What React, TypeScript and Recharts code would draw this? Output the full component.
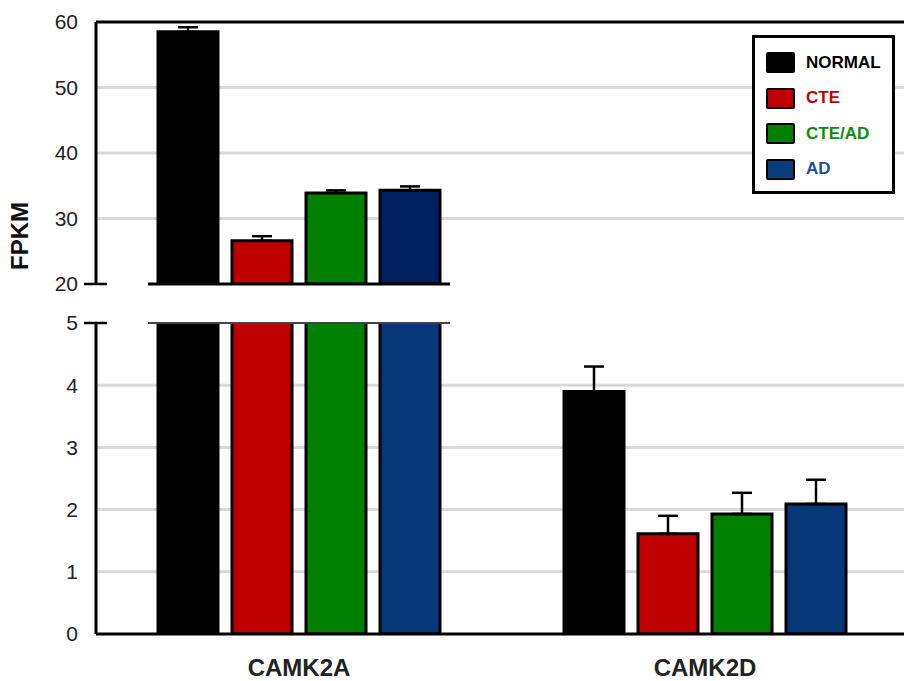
import React from "react";
import {
  ComposedChart,
  Bar,
  XAxis,
  YAxis,
  CartesianGrid,
  ErrorBar,
  ReferenceLine,
  Legend,
} from "recharts";

const categories = ["CAMK2A", "CAMK2D"];
const seriesNames = ["NORMAL", "CTE", "CTE/AD", "AD"];

const normal = [58.5, 3.9];
const normalErr = [0.7, 0.4];
const cte = [26.6, 1.61];
const cteErr = [0.7, 0.29];
const cteAd = [33.9, 1.93];
const cteAdErr = [0.4, 0.34];
const ad = [34.3, 2.09];
const adErr = [0.6, 0.39];

const upperTicks = [20, 30, 40, 50, 60];
const upperGrid = [30, 40, 50];
const lowerTicks = [0, 1, 2, 3, 4, 5];
const lowerGrid = [1, 2, 3, 4];

const UPPER_MIN = 20;
const UPPER_MAX = 60;
const LOWER_MAX = 5;

const keys = ["normal", "cte", "cteAd", "ad"];
const upperFills = ["#000000", "#c00000", "#008000", "#002060"];
const lowerFills = ["#000000", "#c00000", "#008000", "#07397a"];
const legendFills = ["#000000", "#c00000", "#008000", "#0b3d7e"];
const legendText = ["#000000", "#c00000", "#108a10", "#1f4e96"];

const values = [normal, cte, cteAd, ad];
const errors = [normalErr, cteErr, cteAdErr, adErr];

const lowerRows = categories.map((cat, i) => {
  const row: any = { cat };
  keys.forEach((k, s) => {
    row[k] = values[s][i];
    row[k + "Err"] = [0, errors[s][i]];
  });
  return row;
});

// top panel only shows the values that reach above the break
const upperRows = categories.map((cat, i) => {
  const row: any = { cat };
  keys.forEach((k, s) => {
    const v = values[s][i];
    row[k] = v >= UPPER_MIN ? v : null;
    row[k + "Err"] = v >= UPPER_MIN ? [0, errors[s][i]] : null;
  });
  return row;
});

const font = '"Liberation Sans", Arial, sans-serif';

// grid only at chosen values, through the axis scale
const gridAt = (vals: number[], min: number, max: number) => (args: any) => {
  const sc = args?.yAxis?.scale;
  if (typeof sc === "function") return vals.map((v) => sc(v));
  const { offset } = args;
  return vals.map((v) => offset.top + (offset.height * (max - v)) / (max - min));
};

const makeBreak = (color: string, width: number) => (props: any) => {
  const { x1, y1 } = props;
  return (
    <g>
      <line x1={x1 - 12} x2={x1 + 11} y1={y1} y2={y1} stroke="#000" strokeWidth={2.5} />
      <line x1={x1 + 52} x2={x1 + 354} y1={y1} y2={y1} stroke={color} strokeWidth={width} />
    </g>
  );
};

const LegendBox = () => (
  <div
    style={{
      position: "relative",
      width: 137,
      height: 153,
      border: "3px solid #000",
      background: "#fff",
      fontFamily: font,
    }}
  >
    {seriesNames.map((n, i) => (
      <div
        key={n}
        style={{
          position: "absolute",
          left: 11,
          top: 14 + i * 35.5,
          display: "flex",
          alignItems: "center",
          height: 21,
        }}
      >
        <div
          style={{
            width: 25,
            height: 17,
            background: legendFills[i],
            border: "2px solid #000",
            borderRadius: 2,
          }}
        />
        <span
          style={{
            marginLeft: 11,
            fontSize: 17,
            fontWeight: "bold",
            color: legendText[i],
          }}
        >
          {n}
        </span>
      </div>
    ))}
  </div>
);

const tickStyle = { fontSize: 21, fill: "#222", fontFamily: font };

export default function App() {
  return (
    <div
      style={{
        position: "absolute",
        left: 0,
        top: 0,
        width: 904,
        height: 681,
        overflow: "hidden",
        background: "#fff",
        fontFamily: font,
      }}
    >
      <div style={{ position: "absolute", left: 0, top: 0 }}>
        <ComposedChart
          width={908}
          height={300}
          data={upperRows}
          margin={{ top: 22, right: 0, bottom: 16, left: 0 }}
          barCategoryGap={62}
          barGap={14}
        >
          <CartesianGrid
            vertical={false}
            stroke="#d9d9d9"
            strokeWidth={3}
            horizontalCoordinatesGenerator={gridAt(upperGrid, UPPER_MIN, UPPER_MAX)}
          />
          <XAxis dataKey="cat" hide />
          <YAxis
            domain={[UPPER_MIN, UPPER_MAX]}
            ticks={upperTicks}
            allowDataOverflow
            width={96}
            axisLine={{ stroke: "#000", strokeWidth: 3 }}
            tickLine={false}
            tickSize={8}
            tickMargin={10}
            tick={tickStyle}
          />
          {keys.map((k, s) => (
            <Bar
              key={k}
              dataKey={k}
              name={seriesNames[s]}
              fill={upperFills[s]}
              stroke="#000"
              strokeWidth={3}
              barSize={60}
              isAnimationActive={false}
            >
              <ErrorBar dataKey={k + "Err"} width={10} stroke="#000" strokeWidth={2.5} />
            </Bar>
          ))}
          <ReferenceLine y={UPPER_MAX} stroke="#000" strokeWidth={3} />
          <ReferenceLine y={UPPER_MIN} shape={makeBreak("#000", 3)} />
          <Legend
            layout="vertical"
            align="center"
            verticalAlign="middle"
            content={() => <LegendBox />}
            wrapperStyle={{ top: 35, left: 752, width: 143, height: 159 }}
          />
        </ComposedChart>
      </div>

      <div style={{ position: "absolute", left: 0, top: 300 }}>
        <ComposedChart
          width={908}
          height={381}
          data={lowerRows}
          margin={{ top: 23, right: 0, bottom: 0, left: 0 }}
          barCategoryGap={62}
          barGap={14}
        >
          <CartesianGrid
            vertical={false}
            stroke="#d9d9d9"
            strokeWidth={3}
            horizontalCoordinatesGenerator={gridAt(lowerGrid, 0, LOWER_MAX)}
          />
          <XAxis
            dataKey="cat"
            height={47}
            axisLine={{ stroke: "#000", strokeWidth: 3 }}
            tickLine={false}
            tickSize={0}
            tickMargin={25}
            tick={{ fontSize: 24, fontWeight: "bold", fill: "#222", fontFamily: font }}
          />
          <YAxis
            domain={[0, LOWER_MAX]}
            ticks={lowerTicks}
            allowDataOverflow
            width={96}
            axisLine={{ stroke: "#000", strokeWidth: 3 }}
            tickLine={false}
            tickSize={8}
            tickMargin={10}
            tick={tickStyle}
          />
          {keys.map((k, s) => (
            <Bar
              key={k}
              dataKey={k}
              name={seriesNames[s]}
              fill={lowerFills[s]}
              stroke="#000"
              strokeWidth={3}
              barSize={60}
              isAnimationActive={false}
            >
              <ErrorBar dataKey={k + "Err"} width={10} stroke="#000" strokeWidth={2.5} />
            </Bar>
          ))}
          <ReferenceLine y={LOWER_MAX} shape={makeBreak("#444", 2)} />
        </ComposedChart>
      </div>

      <div
        style={{
          position: "absolute",
          left: 20,
          top: 236,
          transform: "translate(-50%, -50%) rotate(-90deg)",
          fontSize: 24,
          fontWeight: "bold",
          color: "#111",
          whiteSpace: "nowrap",
          lineHeight: 1,
        }}
      >
        FPKM
      </div>
    </div>
  );
}
